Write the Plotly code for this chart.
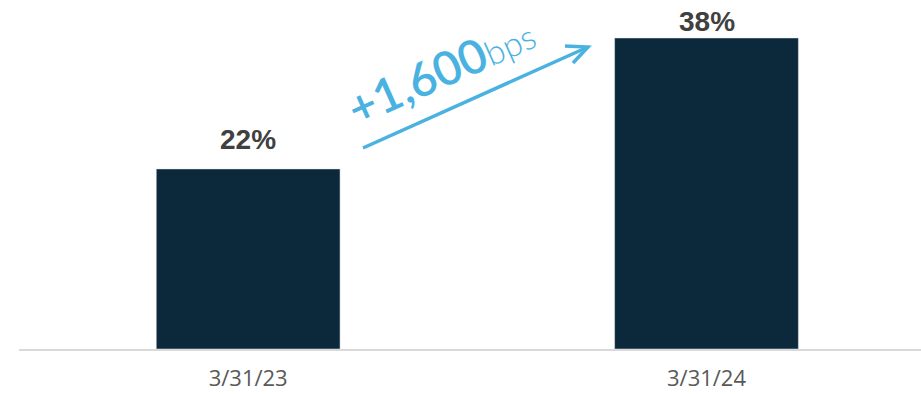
import plotly.graph_objects as go

categories = ["3/31/23", "3/31/24"]
values = [22, 38]
value_labels = ["22%", "38%"]
change_main = "+1,600"
change_unit = "bps"

BAR = "#0c293c"
BLUE = "#4ab2e1"
W, H = 921, 394
L, R, T, B = 19, 0, 0, 45
pw, ph = W - L - R, H - T - B

def px(x):
    return (x - L) / pw

def py(y):
    return (H - B - y) / ph

fig = go.Figure()
fig.add_trace(go.Bar(x=[0, 1], y=values, marker_color=BAR, width=0.401,
                     hoverinfo="skip"))

label_shift = [29, 16]
for i, (v, t) in enumerate(zip(values, value_labels)):
    fig.add_annotation(x=i, y=v, text=t, showarrow=False, xref="x", yref="y",
                       xanchor="center", yanchor="middle", yshift=label_shift[i],
                       font=dict(family="Liberation Sans, Arial", size=28,
                                 color="#404040", weight="bold"))

# arrow
x0, y0, x1, y1 = 363, 148, 588, 47
fig.add_shape(type="line", xref="paper", yref="paper",
              x0=px(x0), y0=py(y0), x1=px(x1), y1=py(y1),
              line=dict(color=BLUE, width=3.5))
fig.add_shape(type="path", xref="paper", yref="paper",
              path=f"M {px(565)} {py(46)} L {px(x1)} {py(y1)} L {px(573)} {py(63)}",
              line=dict(color=BLUE, width=3.5))

fig.add_annotation(xref="paper", yref="paper", x=px(440), y=py(70),
                   xanchor="center", yanchor="middle",
                   text=f"{change_main}<span style='font-size:34px;font-weight:300'>{change_unit}</span>",
                   showarrow=False, textangle=-24,
                   font=dict(family="Lato", size=47, color=BLUE, weight=600))

fig.update_layout(
    width=W, height=H, margin=dict(l=L, r=R, t=T, b=B),
    plot_bgcolor="white", paper_bgcolor="white", showlegend=False,
    xaxis=dict(range=[-0.5, 1.468], tickmode="array", tickvals=[0, 1],
               ticktext=categories, showgrid=False, zeroline=False,
               showline=True, linecolor="#d9d9d9", linewidth=2,
               ticks="", ticklabelstandoff=9, automargin=False,
               tickfont=dict(family="Open Sans", size=22, color="#595959")),
    yaxis=dict(range=[0, 42.64], visible=False, showgrid=False, automargin=False),
)
fig.write_html("out.html")
